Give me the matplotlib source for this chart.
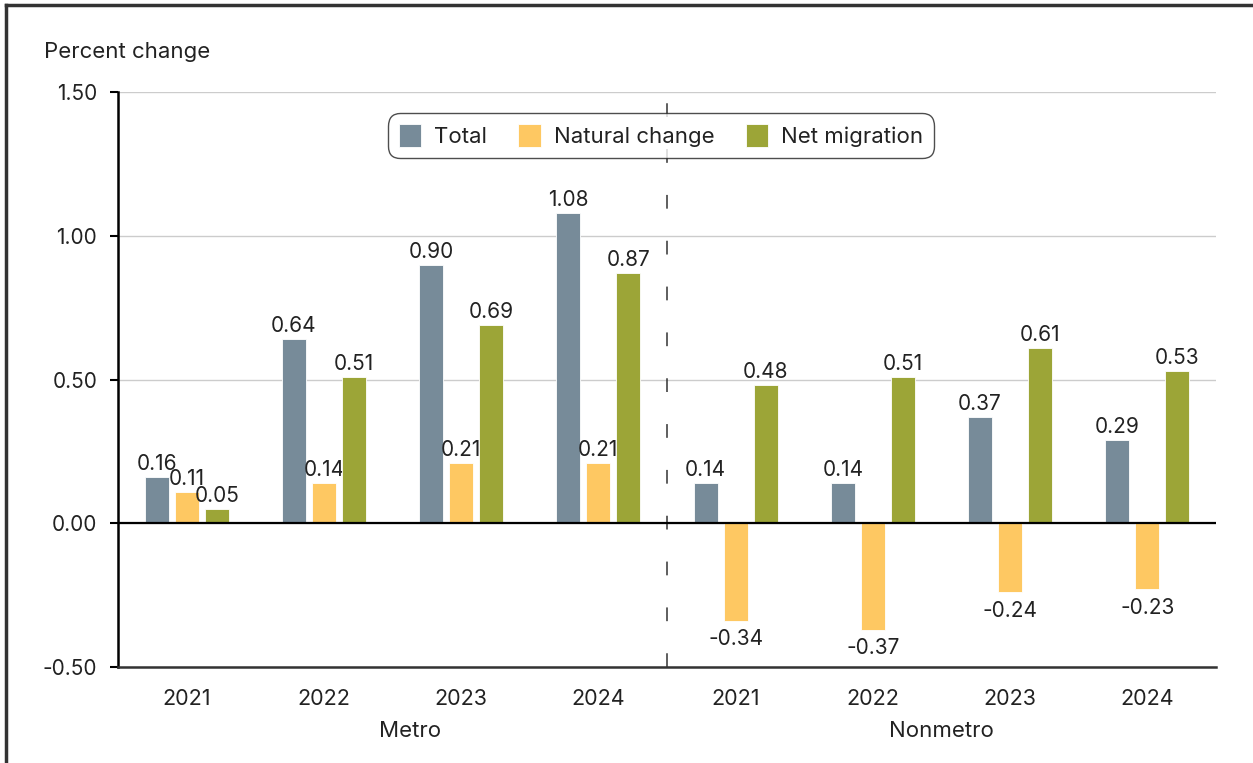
import numpy as np
import matplotlib
matplotlib.use("Agg")
from matplotlib import pyplot as plt
from matplotlib.lines import Line2D
from matplotlib import transforms

plt.rcParams['font.family'] = ['Inter', 'DejaVu Sans']
plt.rcParams['axes.unicode_minus'] = False

years = ['2021', '2022', '2023', '2024']
regions = ['Metro', 'Nonmetro']
series = ['Total', 'Natural change', 'Net migration']
colors = ['#778b99', '#fec862', '#9ca537']

total = [0.16, 0.64, 0.90, 1.08, 0.14, 0.14, 0.37, 0.29]
natural = [0.11, 0.14, 0.21, 0.21, -0.34, -0.37, -0.24, -0.23]
net_migration = [0.05, 0.51, 0.69, 0.87, 0.48, 0.51, 0.61, 0.53]

yticks = [-0.5, 0.0, 0.5, 1.0, 1.5]
text_col = '#222222'

fig = plt.figure(figsize=(12.53, 7.63), dpi=100)
ax = fig.add_axes([0.0942, 0.1258, 0.8763, 0.7536])

x = np.arange(len(total))
w = 0.175
off = 0.219
for i, (vals, c, name) in enumerate(zip([total, natural, net_migration], colors, series)):
    bars = ax.bar(x + (i - 1) * off, vals, w, color=c, edgecolor='white',
                  linewidth=0.6, label=name, zorder=3)
    # negatives get a bit more room below the bar
    ax.bar_label(bars, labels=['%.2f' % v for v in vals], padding=2,
                 fontsize=15, color=text_col)
    if min(vals) < 0:
        for t, v in zip(ax.texts[-len(vals):], vals):
            if v < 0:
                t.xyann = (t.xyann[0], t.xyann[1] - 4)

ax.set_xlim(-0.5, len(total) - 0.5)
ax.set_ylim(-0.5, 1.5)
ax.set_yticks(yticks)
ax.set_yticklabels(['%.2f' % v for v in yticks])
ax.yaxis.grid(True, color='#cccccc', linewidth=1, zorder=0)
ax.axhline(0, color='black', linewidth=1.6, zorder=4)
ax.axvline(3.5, color='#333333', linewidth=1.1, linestyle=(0, (9, 21)), zorder=2)

ax.set_xticks(x)
ax.set_xticklabels(years * 2)
ax.tick_params(axis='x', length=0, pad=16, labelsize=15.5, labelcolor=text_col)
ax.tick_params(axis='y', length=6, width=1.5, pad=9, labelsize=15, labelcolor=text_col)

for s in ['top', 'right']:
    ax.spines[s].set_visible(False)
ax.spines['left'].set_linewidth(1.8)
ax.spines['bottom'].set_linewidth(1.8)
ax.spines['bottom'].set_color('#333333')

trans = transforms.blended_transform_factory(ax.transData, ax.transAxes)
ax.text(1.63, -0.111, regions[0], transform=trans, ha='center', va='center',
        fontsize=16, color=text_col)
ax.text(5.5, -0.111, regions[1], transform=trans, ha='center', va='center',
        fontsize=16, color=text_col)

fig.text(0.035, 0.932, 'Percent change', ha='left', va='center',
         fontsize=16, color=text_col)

leg = ax.legend(loc='upper center', bbox_to_anchor=(0.4945, 0.963), ncol=3,
                fontsize=16, frameon=True, fancybox=True, edgecolor='#222222',
                handlelength=1.0, handleheight=1.2, handletextpad=0.6,
                columnspacing=1.4, borderpad=0.5, borderaxespad=0)
leg.get_frame().set_linewidth(1.0)
leg.get_frame().set_boxstyle('round,pad=0,rounding_size=0.55')
for t in leg.get_texts():
    t.set_color(text_col)

# outer frame (top and left edges)
fig.add_artist(Line2D([6 / 1253, 1], [1 - 5 / 763, 1 - 5 / 763],
                      transform=fig.transFigure, color='#333333', linewidth=2.5))
fig.add_artist(Line2D([6 / 1253, 6 / 1253], [0, 1 - 5 / 763],
                      transform=fig.transFigure, color='#333333', linewidth=2.5))

fig.savefig('out.png', dpi=100)
